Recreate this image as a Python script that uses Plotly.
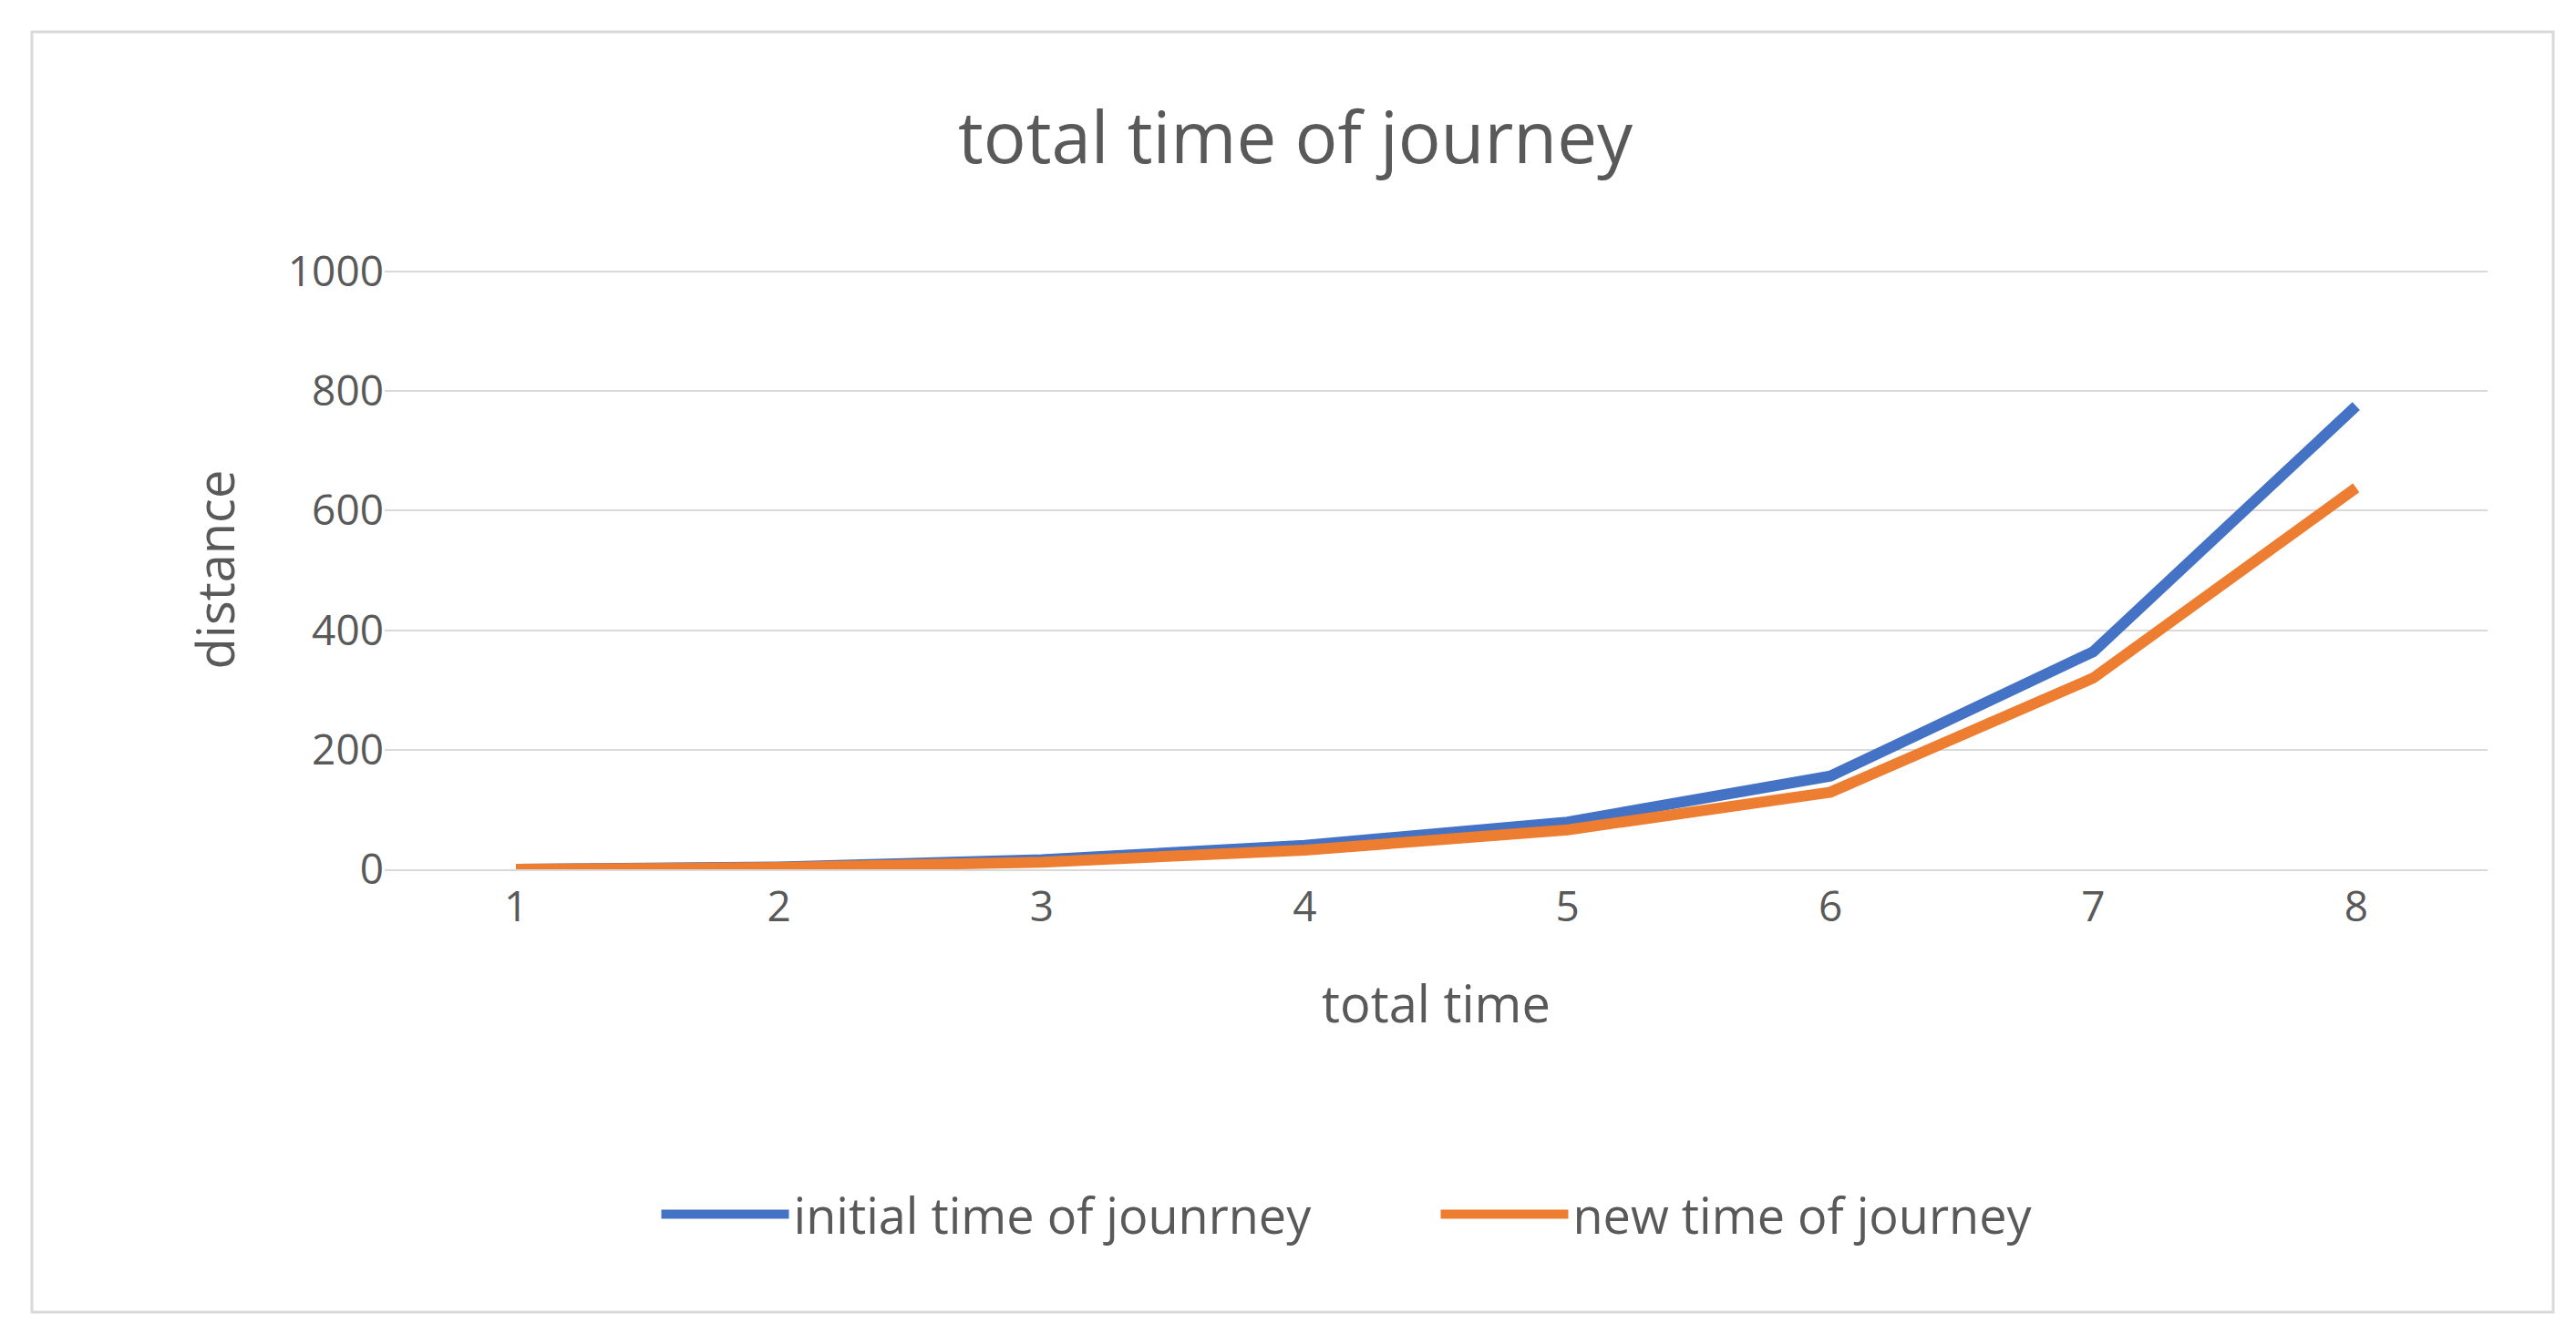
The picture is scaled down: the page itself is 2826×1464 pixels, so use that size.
import plotly.graph_objects as go

categories = ["1", "2", "3", "4", "5", "6", "7", "8"]
initial_time = [0, 4, 16, 40, 79, 156, 364, 775]
new_time = [0, 3, 12, 32, 66, 129, 320, 638]
y_ticks = [0, 200, 400, 600, 800, 1000]

W, H = 2826, 1464
L, R, T, B = 414, 105, 288, 518
pw, ph = W - L - R, H - T - B
def px(x): return (x - L) / pw
def py(y): return (H - B - y) / ph

fig = go.Figure()
fig.add_trace(go.Scatter(x=categories, y=initial_time, mode="lines", name="initial time of jounrney",
                         line=dict(color="#4472C4", width=12)))
fig.add_trace(go.Scatter(x=categories, y=new_time, mode="lines", name="new time of journey",
                         line=dict(color="#ED7D31", width=12)))
font = "Open Sans, Liberation Sans, sans-serif"
fig.update_layout(
    width=W, height=H, margin=dict(l=L, r=R, t=T, b=B),
    paper_bgcolor="white", plot_bgcolor="white",
    font=dict(family=font, color="#595959", size=46),
    title=dict(text="total time of journey", x=0.5, xanchor="center", y=1 - 144 / H, yanchor="middle",
               font=dict(size=78, color="#595959")),
    xaxis=dict(type="category", range=[-0.5, 7.5], showgrid=False, showline=True, linecolor="#d9d9d9",
               linewidth=2, ticks="", tickfont=dict(size=46),
               title=dict(text="total time", font=dict(size=56), standoff=60)),
    yaxis=dict(range=[0, 1003], tickvals=y_ticks, showgrid=True, gridcolor="#d9d9d9", gridwidth=2,
               zeroline=False, ticks="", tickfont=dict(size=46),
               title=dict(text="distance", font=dict(size=56), standoff=40)),
    legend=dict(orientation="h", x=0.5, xanchor="center", y=py(1325), yanchor="middle",
                font=dict(size=54), itemwidth=140, entrywidthmode="pixels", entrywidth=700),
    shapes=[dict(type="rect", xref="paper", yref="paper", x0=px(27), x1=px(2793), y0=py(1432), y1=py(27),
                 line=dict(color="#d9d9d9", width=3), layer="below")],
)
fig.write_html("out.html")
